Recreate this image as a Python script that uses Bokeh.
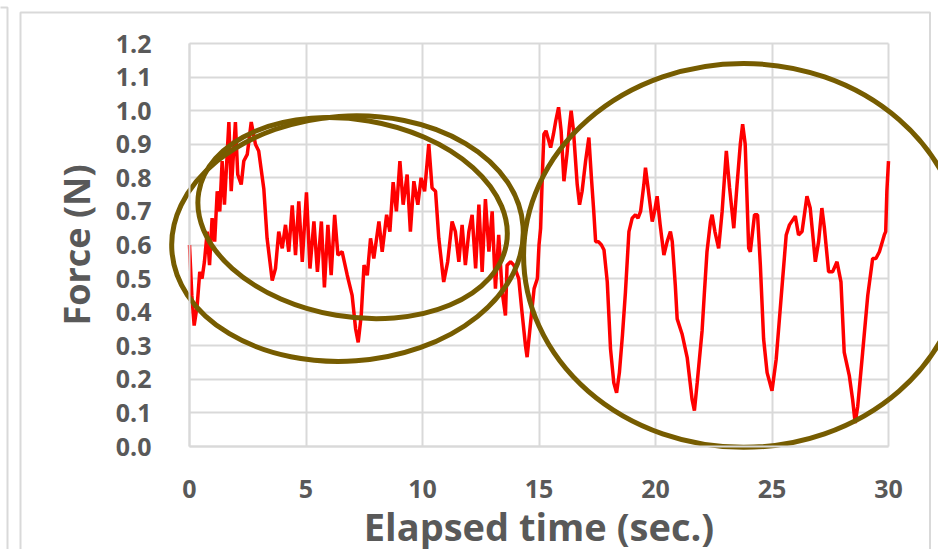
import numpy as np
from bokeh.plotting import figure
from bokeh.models import FixedTicker, CustomJSTickFormatter, Grid, Range1d
from bokeh.embed import file_html
from bokeh.resources import INLINE

# ---------------- data ----------------
time_s = [0.00, 0.10, 0.20, 0.33, 0.44, 0.54, 0.64, 0.76, 0.86, 0.97, 1.08, 1.19, 1.30, 1.40, 1.50,
          1.69, 1.79, 1.97, 2.07, 2.22, 2.33, 2.48, 2.65, 2.83, 2.97, 3.19, 3.33, 3.55, 3.69, 3.83,
          3.98, 4.12, 4.26, 4.41, 4.55, 4.69, 4.84, 5.02, 5.17, 5.34, 5.49, 5.66, 5.79, 5.94, 6.08,
          6.23, 6.37, 6.55, 6.77, 6.98, 7.13, 7.24, 7.37, 7.49, 7.63, 7.77, 7.91, 8.13, 8.27, 8.46,
          8.60, 8.74, 8.88, 9.03, 9.17, 9.34, 9.48, 9.63, 9.80, 9.94, 10.09, 10.27, 10.41, 10.56,
          10.70, 10.91, 11.08, 11.27, 11.41, 11.56, 11.70, 11.84, 11.99, 12.13, 12.28, 12.42, 12.56,
          12.70, 12.85, 12.99, 13.13, 13.27, 13.42, 13.56, 13.63, 13.78, 13.92, 14.13, 14.27, 14.42,
          14.49, 14.64, 14.79, 14.93, 15.00, 15.07, 15.14, 15.21, 15.30, 15.38, 15.50, 15.62,
          15.72, 15.84, 15.95, 16.07, 16.20, 16.30, 16.38, 16.48, 16.64, 16.74, 16.85, 17.00, 17.14,
          17.25, 17.35, 17.43, 17.55, 17.68, 17.79, 17.93, 18.07, 18.21, 18.33, 18.45, 18.58, 18.71,
          18.86, 19.00, 19.14, 19.25, 19.36, 19.50, 19.57, 19.68, 19.86, 19.96, 20.07, 20.20, 20.36,
          20.50, 20.64, 20.72, 20.85, 20.93, 21.14, 21.36, 21.57, 21.67, 21.79, 22.00, 22.10, 22.21,
          22.36, 22.43, 22.55, 22.71, 22.86, 23.04, 23.18, 23.36, 23.50, 23.64, 23.74, 23.85, 24.00,
          24.07, 24.25, 24.38, 24.50, 24.64, 24.79, 25.00, 25.18, 25.40, 25.61, 25.75, 26.00, 26.14,
          26.29, 26.50, 26.64, 26.86, 27.00, 27.14, 27.25, 27.43, 27.60, 27.79, 27.96, 28.10, 28.32,
          28.46, 28.57, 28.68, 28.89, 29.11, 29.32, 29.46, 29.61, 29.82, 29.88, 29.93, 30.00]

force_n = [0.60, 0.45, 0.36, 0.42, 0.52, 0.50, 0.55, 0.64, 0.54, 0.68, 0.61, 0.76, 0.70, 0.85, 0.72,
           0.966, 0.76, 0.966, 0.81, 0.78, 0.85, 0.87, 0.966, 0.90, 0.88, 0.767, 0.62, 0.494, 0.53, 0.64,
           0.59, 0.66, 0.58, 0.718, 0.57, 0.73, 0.55, 0.757, 0.53, 0.67, 0.52, 0.67, 0.474, 0.66, 0.51,
           0.69, 0.57, 0.58, 0.51, 0.45, 0.35, 0.31, 0.39, 0.54, 0.51, 0.62, 0.56, 0.67, 0.58, 0.69,
           0.64, 0.787, 0.70, 0.85, 0.72, 0.81, 0.64, 0.79, 0.72, 0.80, 0.76, 0.90, 0.77, 0.76,
           0.62, 0.49, 0.55, 0.67, 0.64, 0.55, 0.66, 0.54, 0.64, 0.69, 0.53, 0.72, 0.52,
           0.737, 0.58, 0.70, 0.47, 0.63, 0.46, 0.39, 0.54, 0.55, 0.54, 0.50, 0.40, 0.30,
           0.266, 0.37, 0.47, 0.50, 0.60, 0.65, 0.80, 0.93, 0.94, 0.92, 0.89, 0.93,
           0.97, 1.01, 0.94, 0.79, 0.87, 0.95, 1.00, 0.94, 0.78, 0.72, 0.76, 0.85, 0.92,
           0.80, 0.70, 0.61, 0.61, 0.60, 0.585, 0.49, 0.29, 0.19, 0.16, 0.22, 0.33, 0.46,
           0.64, 0.68, 0.69, 0.68, 0.70, 0.78, 0.83, 0.77, 0.67, 0.70, 0.745, 0.66, 0.57,
           0.61, 0.64, 0.61, 0.48, 0.38, 0.335, 0.265, 0.14, 0.107, 0.19, 0.345, 0.46, 0.58,
           0.67, 0.69, 0.64, 0.59, 0.70, 0.88, 0.77, 0.65, 0.78, 0.90, 0.96, 0.90, 0.59,
           0.58, 0.69, 0.69, 0.54, 0.32, 0.22, 0.166, 0.26, 0.45, 0.63, 0.66, 0.686, 0.63,
           0.64, 0.745, 0.71, 0.55, 0.61, 0.71, 0.65, 0.52, 0.52, 0.55, 0.49, 0.28, 0.21,
           0.14, 0.07, 0.12, 0.28, 0.45, 0.56, 0.56, 0.58, 0.63, 0.64, 0.76, 0.85]

x_ticks = [0, 5, 10, 15, 20, 25, 30]
y_ticks = [0.0, 0.1, 0.2, 0.3, 0.4, 0.5, 0.6, 0.7, 0.8, 0.9, 1.0, 1.1, 1.2]
x_title = "Elapsed time (sec.)"
y_title = "Force (N)"

# highlight ellipses: centre (time, force), size in screen px, tilt in degrees
ellipse_cx = [6.78, 7.00, 23.78]
ellipse_cy = [0.619, 0.680, 0.569]
ellipse_w = [352, 312, 440]
ellipse_h = [245, 197, 384]
ellipse_tilt = [4, -9.5, 0]

# ---------------- layout (pixels) ----------------
W, H = 938, 549
FL, FR, FT, FB = 189, 888, 43, 446      # plotting area of the chart
X0, X1, Y0, Y1 = 0, 30, 0, 1.2
px_t = (FR - FL) / (X1 - X0)
px_v = (FB - FT) / (Y1 - Y0)

def sx_to_t(sx):
    return X0 + (sx - FL) / px_t

def sy_to_v(sy):
    return Y0 + (FB - sy) / px_v

p = figure(width=W, height=H,
           x_range=Range1d(sx_to_t(0), sx_to_t(W)),
           y_range=Range1d(sy_to_v(H), sy_to_v(0)),
           output_backend="svg", toolbar_location=None,
           min_border=0, min_border_left=0, min_border_right=0,
           min_border_top=0, min_border_bottom=0)
p.background_fill_color = "white"
p.border_fill_color = "white"
p.outline_line_color = None

GRID = "#d9d9d9"
TXT = "#595959"
OLIVE = "#765c00"

# outer chart panel borders
p.quad(left=[sx_to_t(20)], right=[sx_to_t(929.5)], top=[sy_to_v(12)], bottom=[sy_to_v(H + 20)],
       fill_color=None, line_color=GRID, line_width=2)
p.quad(left=[sx_to_t(-20)], right=[sx_to_t(7)], top=[sy_to_v(7)], bottom=[sy_to_v(H + 20)],
       fill_color=None, line_color=GRID, line_width=2)

xa = p.xaxis[0]
ya = p.yaxis[0]
xa.fixed_location = Y0
ya.fixed_location = X0
xa.bounds = (X0, X1)
ya.bounds = (Y0, Y1)
for ax in (xa, ya):
    ax.axis_line_color = GRID
    ax.axis_line_width = 2
    ax.major_tick_line_color = None
    ax.minor_tick_line_color = None
    ax.major_tick_out = 0
    ax.major_tick_in = 0
    ax.major_label_text_font = "Open Sans"
    ax.major_label_text_font_style = "bold"
    ax.major_label_text_font_size = "25px"
    ax.major_label_text_color = TXT
    ax.axis_label_text_font = "Open Sans"
    ax.axis_label_text_font_style = "bold"
    ax.axis_label_text_color = TXT

xa.ticker = FixedTicker(ticks=x_ticks)
ya.ticker = FixedTicker(ticks=y_ticks)
ya.formatter = CustomJSTickFormatter(code="return tick.toFixed(1);")
xa.major_label_standoff = 33
ya.major_label_standoff = 38

ya.axis_label = y_title
ya.axis_label_text_font_size = "36px"
ya.axis_label_standoff = 12

xa.axis_label = x_title
xa.axis_label_text_font_size = "38px"
xa.axis_label_standoff = -1

xg = p.xgrid[0]
yg = p.ygrid[0]
xg.ticker = FixedTicker(ticks=x_ticks)
yg.ticker = FixedTicker(ticks=y_ticks)
xg.bounds = (X0, X1)
yg.bounds = (Y0, Y1)
if "cross_bounds" in Grid.properties():
    xg.cross_bounds = (Y0, Y1)
    yg.cross_bounds = (X0, X1)
    for g in (xg, yg):
        g.grid_line_color = GRID
        g.grid_line_width = 2
else:
    xg.visible = False
    yg.visible = False
    p.segment(x0=x_ticks, x1=x_ticks, y0=[Y0] * len(x_ticks), y1=[Y1] * len(x_ticks),
              line_color=GRID, line_width=2, level="underlay")
    p.segment(x0=[X0] * len(y_ticks), x1=[X1] * len(y_ticks), y0=y_ticks, y1=y_ticks,
              line_color=GRID, line_width=2, level="underlay")

p.line(time_s, force_n, line_color="#ff0000", line_width=3.5)

p.ellipse(x=ellipse_cx, y=ellipse_cy, width=ellipse_w, height=ellipse_h,
          width_units="screen", height_units="screen",
          angle=list(np.radians(ellipse_tilt)),
          fill_color=None, line_color=OLIVE, line_width=5)

open("out.html", "w").write(file_html(p, INLINE))
